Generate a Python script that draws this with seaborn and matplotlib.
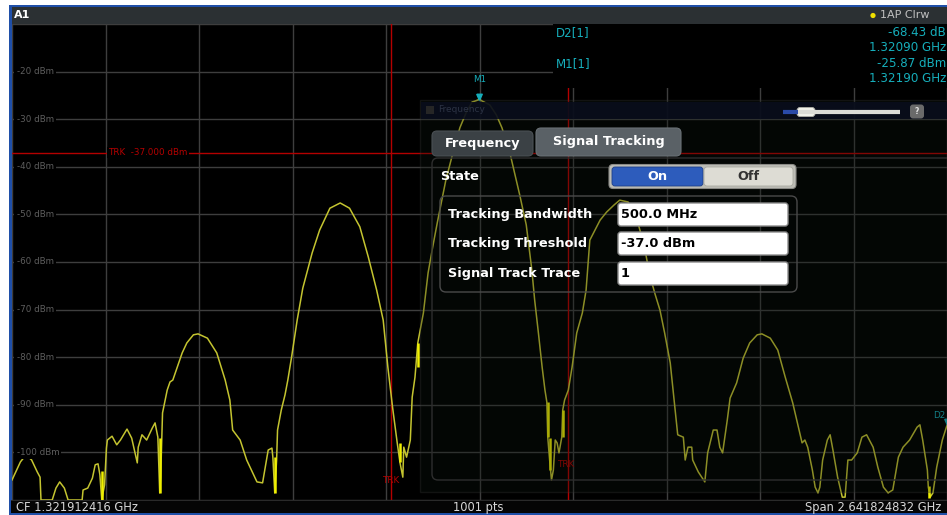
import numpy as np
import pandas as pd
import matplotlib
matplotlib.use("Agg")
import matplotlib.pyplot as plt
import seaborn as sns
from matplotlib.patches import Rectangle, FancyBboxPatch, Circle
from matplotlib.path import Path

# ---------------- data ----------------
center_freq_ghz = 1.321912416
span_ghz = 2.641824832
n_points = 1001

sweep_pts = [0, 9, 15, 21, 27, 30, 31, 43, 47, 51, 56, 60, 75, 76, 81, 86, 89, 92, 94, 96,
             99, 101, 102, 107, 112, 116, 123, 128, 134, 135, 139, 144, 150, 153, 156, 158, 159, 161, 166, 169,
             172, 182, 187, 194, 199, 209, 219, 228, 233, 236, 244, 251, 262, 268, 274, 278, 279, 281, 283, 284,
             288, 292, 295, 299, 305, 311, 321, 329, 340, 351, 361, 372, 381, 390, 397, 402, 407, 412, 415, 418,
             419, 422, 426, 428, 431, 434, 440, 445, 450, 455, 458, 464, 471, 479, 486, 492, 500, 503, 511, 518,
             524, 533, 543, 550, 552, 556, 559, 563, 567, 570, 572, 573, 575, 577, 579, 581, 583, 585, 588, 589,
             591, 595, 599, 604, 610, 614, 618, 629, 636, 644, 650, 659, 667, 676, 682, 688, 693, 698, 704, 709,
             712, 718, 720, 723, 727, 728, 734, 741, 744, 750, 754, 757, 760, 765, 768, 775, 782, 789, 797, 802,
             811, 819, 827, 835, 841, 845, 848, 851, 856, 859, 862, 864, 867, 872, 875, 878, 883, 888, 891, 894,
             898, 904, 909, 914, 921, 926, 932, 937, 942, 948, 953, 960, 968, 971, 974, 979, 980, 982, 985, 989,
             995, 1000]
level_dbm = [-105.8, -102.0, -100.5, -101.6, -104.1, -105.2, -110.0, -110.0, -107.5, -106.2, -107.5, -110.0, -110.0, -107.9, -107.5, -105.4, -102.6, -102.4, -104.7, -110.0,
             -106.8, -99.1, -97.4, -96.6, -98.4, -97.4, -95.1, -97.0, -102.2, -98.9, -96.3, -97.4, -94.9, -93.8, -96.8, -108.5, -105.2, -91.7, -86.9, -85.2,
             -84.8, -79.1, -77.0, -75.3, -75.1, -76.0, -79.1, -84.8, -89.0, -95.3, -97.4, -101.6, -106.2, -106.4, -99.5, -99.1, -101.0, -108.5, -101.6, -95.3,
             -91.1, -87.9, -84.8, -80.0, -72.2, -65.5, -58.1, -53.3, -48.7, -47.6, -48.7, -52.6, -58.9, -65.9, -72.2, -82.1, -90.5, -98.0, -102.2, -105.2,
             -98.9, -101.0, -97.4, -88.4, -84.2, -77.0, -70.7, -62.3, -56.8, -51.6, -48.7, -42.8, -37.5, -31.8, -28.5, -26.4, -25.87, -26.2, -27.0, -29.1,
             -31.8, -37.5, -45.9, -52.2, -55.4, -61.7, -68.0, -74.9, -82.1, -86.9, -89.4, -96.8, -101.6, -105.8, -103.7, -97.4, -98.0, -100.1, -96.8, -91.1,
             -89.0, -86.9, -82.1, -74.9, -70.7, -65.9, -55.4, -51.2, -49.5, -48.0, -47.0, -47.4, -50.1, -56.4, -62.7, -66.9, -70.1, -74.9, -81.2, -90.5,
             -96.3, -96.8, -101.6, -98.9, -98.9, -101.6, -104.1, -106.2, -100.1, -95.3, -95.3, -98.9, -100.1, -93.2, -88.6, -85.4, -80.2, -77.0, -75.3, -75.1,
             -76.0, -78.5, -84.2, -89.6, -94.7, -98.0, -97.4, -98.9, -103.7, -107.3, -108.5, -107.3, -101.6, -97.4, -96.3, -99.5, -105.2, -109.4, -109.4, -101.6,
             -101.6, -100.1, -96.8, -96.3, -98.9, -103.1, -107.3, -108.5, -107.9, -101.0, -98.9, -97.4, -94.7, -94.2, -97.4, -103.7, -107.3, -109.4, -108.5, -103.1,
             -97.4, -94.3]

# vertical sweep segments that render brighter (sweep point, low dBm, high dBm)
spike_pts = [96, 158, 281, 415, 434, 573, 575, 589, 981]
spike_low = [-110.0, -108.5, -108.5, -102.0, -82.0, -96.8, -103.7, -96.8, -109.5]
spike_high = [-104.0, -97.0, -101.0, -98.0, -77.0, -89.4, -97.0, -91.1, -107.0]

grid_levels = [-20, -30, -40, -50, -60, -70, -80, -90, -100]
y_min, y_max = -110, -10

trk_threshold_dbm = -37.0
trk_bandwidth_mhz = 500.0
trk_trace = 1
m1_freq_ghz = 1.32190
m1_level_dbm = -25.87
d2_delta_freq_ghz = 1.32090
d2_delta_db = -68.43

# ---------------- derived ----------------
f_start = center_freq_ghz - span_ghz / 2
f_stop = center_freq_ghz + span_ghz / 2
step = span_ghz / (n_points - 1)
freq_ghz = f_start + np.array(sweep_pts) * step
df = pd.DataFrame({"freq": freq_ghz, "level": level_dbm})

W, H = 947, 515
fig = plt.figure(figsize=(W / 100, H / 100), dpi=100, facecolor="white")
ax = fig.add_axes([12 / W, 15 / H, 935 / W, 476 / H])
ax.set_facecolor("black")

YEL = "#c4c430"
CYAN = "#16aebb"
RED = "#b40000"
GRID = "#3e3e3e"

sns.lineplot(data=df, x="freq", y="level", ax=ax, color=YEL, lw=1.1,
             estimator=None, sort=False, zorder=3)
ax.vlines(f_start + np.array(spike_pts) * step, spike_low, spike_high,
          color="#f0f000", lw=1.8, zorder=3)

ax.set_xlim(f_start, f_stop)
ax.set_ylim(y_min, y_max)
ax.set_xticks(np.linspace(f_start, f_stop, 11))
ax.set_yticks(np.arange(y_min, y_max + 1, 10))
ax.grid(True, color=GRID, lw=1.0, zorder=0)
ax.tick_params(length=0, labelbottom=False, labelleft=False)
for s in ax.spines.values():
    s.set_visible(False)
ax.set_xlabel("")
ax.set_ylabel("")

# tracking lines
ax.axhline(trk_threshold_dbm, color=RED, lw=1.0, zorder=2)
trk_lo = m1_freq_ghz - trk_bandwidth_mhz / 2000
trk_hi = m1_freq_ghz + trk_bandwidth_mhz / 2000
ax.axvline(trk_lo, color=RED, lw=1.0, zorder=2)
ax.axvline(trk_hi, color=RED, lw=1.0, zorder=2)

# y level labels
for lv in grid_levels:
    ax.text(0.005, lv, f"{lv} dBm", transform=ax.get_yaxis_transform(), color="#5e5e5e",
            fontsize=6.3, va="center", ha="left", zorder=4,
            bbox=dict(boxstyle="square,pad=0.25", fc="black", ec="none"))

ax.text(f_start + span_ghz * 0.1 + 0.008, trk_threshold_dbm, f"TRK  {trk_threshold_dbm:.3f} dBm",
        color=RED, fontsize=6.3, va="center", ha="left", zorder=4,
        bbox=dict(boxstyle="square,pad=0.15", fc="black", ec="none"))
ax.text(trk_lo, -105.8, "TRK", color=RED, fontsize=6.3, va="center", ha="center", zorder=4)
ax.text(trk_hi - 0.008, -102.5, "TRK", color=RED, fontsize=6.3, va="center", ha="center", zorder=4)

# markers
tri = Path([(-0.7, 1.6), (0.7, 1.6), (0.0, 0.0), (-0.7, 1.6)])
ax.plot([m1_freq_ghz], [m1_level_dbm], marker=tri, ms=9, color=CYAN, ls="none", zorder=5)
ax.annotate("M1", (m1_freq_ghz, m1_level_dbm), xytext=(0, 11), textcoords="offset points",
            color=CYAN, fontsize=6.3, ha="center", va="bottom", zorder=5)
d2_f = m1_freq_ghz + d2_delta_freq_ghz
d2_l = m1_level_dbm + d2_delta_db
ax.plot([d2_f], [d2_l], marker=tri, ms=9, color=CYAN, ls="none", zorder=5, clip_on=False)
ax.annotate("D2", (d2_f, d2_l), xytext=(-10, 4), textcoords="offset points",
            color=CYAN, fontsize=6.3, ha="left", va="bottom", zorder=5, annotation_clip=False)

# ---------------- overlay (screen chrome + dialog) ----------------
ov = fig.add_axes([0, 0, 1, 1], zorder=10)
ov.set_xlim(0, W)
ov.set_ylim(H, 0)
ov.axis("off")
ov.patch.set_alpha(0)

BLUE = "#1f4fa8"
# header
ov.add_patch(Rectangle((9, 5), 940, 2, fc=BLUE, ec="none"))
ov.add_patch(Rectangle((11, 7), 940, 17, fc="#2b3033", ec="none"))
ov.add_patch(Rectangle((9, 5), 2.5, 512, fc=BLUE, ec="none"))
ov.text(14, 15.5, "A1", color="white", fontsize=8, fontweight="bold", va="center", ha="left")
ov.add_patch(Circle((873, 15.5), 2.6, fc="#f0e000", ec="none"))
ov.text(880, 15.5, "1AP Clrw", color="#c0c0c0", fontsize=8, va="center", ha="left")

# status bar
ov.add_patch(Rectangle((11, 500), 940, 13, fc="#050505", ec="none"))
ov.add_patch(Rectangle((11, 500), 940, 1, fc="#2a2a2a", ec="none"))
ov.add_patch(Rectangle((9, 513), 940, 3, fc=BLUE, ec="none"))
ov.text(16, 507.5, f"CF {center_freq_ghz:.9f} GHz", color="#d8d8d8", fontsize=8.3, va="center", ha="left")
ov.text(478, 507.5, f"{n_points} pts", color="#d8d8d8", fontsize=8.3, va="center", ha="center")
ov.text(941, 507.5, f"Span {span_ghz:.9f} GHz", color="#d8d8d8", fontsize=8.3, va="center", ha="right")

# marker readout table (opaque black block)
ov.add_patch(Rectangle((553, 24), 394, 64, fc="black", ec="none"))
ov.text(556, 32.5, "D2[1]", color=CYAN, fontsize=8.6, va="center", ha="left")
ov.text(946, 32.5, f"{d2_delta_db:.2f} dB", color=CYAN, fontsize=8.6, va="center", ha="right")
ov.text(946, 47.5, f"{d2_delta_freq_ghz:.5f} GHz", color=CYAN, fontsize=8.6, va="center", ha="right")
ov.text(556, 64, "M1[1]", color=CYAN, fontsize=8.6, va="center", ha="left")
ov.text(946, 63.5, f"{m1_level_dbm:.2f} dBm", color=CYAN, fontsize=8.6, va="center", ha="right")
ov.text(946, 79, f"{m1_freq_ghz:.5f} GHz", color=CYAN, fontsize=8.6, va="center", ha="right")

# dialog panel (translucent)
ov.add_patch(Rectangle((420, 100), 540, 392, fc="#0c140f", ec="#3a3a3a", lw=1.0, alpha=0.3))
ov.add_patch(FancyBboxPatch((432, 158), 530, 322, boxstyle="round,pad=0,rounding_size=6",
                            fc="none", ec="#2e2e2e", lw=1.0))
ov.add_patch(Rectangle((421, 102), 530, 17, fc="#090d1c", ec="none", alpha=0.9))
ov.add_patch(Rectangle((426, 106), 8, 8, fc="#262626", ec="none"))
ov.text(438, 110, "Frequency", color="#2c3344", fontsize=6.5, va="center", ha="left")
ov.plot([783, 798], [112, 112], color="#2a4aa8", lw=3, solid_capstyle="butt")
ov.plot([798, 900], [112, 112], color="#dcdcd6", lw=3, solid_capstyle="butt")
ov.add_patch(FancyBboxPatch((797, 107.5), 18, 9, boxstyle="round,pad=0,rounding_size=3",
                            fc="#f2f2ea", ec="#b0b0a8", lw=0.6))
ov.add_patch(FancyBboxPatch((910, 104.5), 14, 14, boxstyle="round,pad=0,rounding_size=3",
                            fc="#6a6a6a", ec="none"))
ov.text(917, 111.5, "?", color="#e0e0e0", fontsize=5.5, fontweight="bold", va="center", ha="center")

# tabs
ov.add_patch(FancyBboxPatch((432, 131), 101, 25, boxstyle="round,pad=0,rounding_size=5",
                            fc="#3b4145", ec="#4a5054", lw=0.8))
ov.text(482.5, 143, "Frequency", color="white", fontsize=9.3, fontweight="bold", va="center", ha="center")
ov.add_patch(FancyBboxPatch((536, 128), 145, 28, boxstyle="round,pad=0,rounding_size=5",
                            fc="#5a6166", ec="#6a7176", lw=0.8))
ov.text(608.5, 141, "Signal Tracking", color="white", fontsize=9.3, fontweight="bold", va="center", ha="center")

# state toggle
ov.text(440, 176, "State", color="white", fontsize=9.3, fontweight="bold", va="center", ha="left")
ov.add_patch(FancyBboxPatch((609, 164.5), 187, 24, boxstyle="round,pad=0,rounding_size=4",
                            fc="#bdbdb6", ec="#8a8a86", lw=0.8))
ov.add_patch(FancyBboxPatch((612, 167), 91, 19, boxstyle="round,pad=0,rounding_size=3",
                            fc="#2d5cbc", ec="#1d3f88", lw=0.6))
ov.add_patch(FancyBboxPatch((704, 167), 89, 19, boxstyle="round,pad=0,rounding_size=3",
                            fc="#dddcd4", ec="#a8a8a0", lw=0.6))
ov.text(657, 177, "On", color="white", fontsize=9.3, fontweight="bold", va="center", ha="center")
ov.text(748, 177, "Off", color="#333333", fontsize=9.3, fontweight="bold", va="center", ha="center")

# group box with fields
ov.add_patch(FancyBboxPatch((440, 196), 357, 96, boxstyle="round,pad=0,rounding_size=6",
                            fc="none", ec="#4a4a4a", lw=1.0))
rows = [("Tracking Bandwidth", f"{trk_bandwidth_mhz:.1f} MHz", 214.5),
        ("Tracking Threshold", f"{trk_threshold_dbm:.1f} dBm", 243.5),
        ("Signal Track Trace", f"{trk_trace}", 273.5)]
for lab, val, yc in rows:
    ov.text(448, yc, lab, color="white", fontsize=9.3, fontweight="bold", va="center", ha="left")
    ov.add_patch(FancyBboxPatch((618, yc - 11.5), 170, 23, boxstyle="round,pad=0,rounding_size=3",
                                fc="white", ec="#8c8c8c", lw=1.0))
    ov.text(621, yc, val, color="black", fontsize=9.3, fontweight="bold", va="center", ha="left")

fig.savefig("out.png", dpi=100, facecolor="white")
